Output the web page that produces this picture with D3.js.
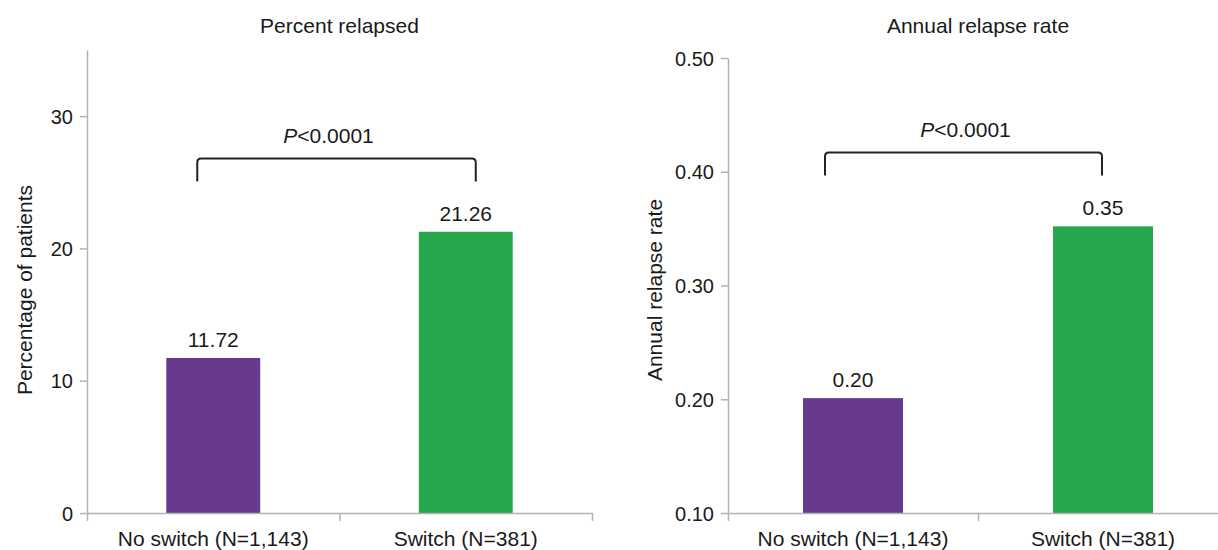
<!DOCTYPE html>
<html>
<head>
<meta charset="utf-8">
<script src="https://cdn.jsdelivr.net/npm/d3@7"></script>
<style>
	body { margin: 0; background: #fff; }
	svg { display: block; font-family: "Liberation Sans", Arial, sans-serif; }
	.axis path, .axis line { stroke: #b3b3b3; stroke-width: 1.5; }
	.axis text { fill: #1a1a1a; font-size: 20px; }
</style>
</head>
<body>
<div id="chart"></div>
<script>
// data
var categories = ["No switch (N=1,143)", "Switch (N=381)"];
var barColors = ["#673a8f", "#27a84f"];

var percentRelapsed = [11.72, 21.26];
var percentTicks = [0, 10, 20, 30];

var annualRate = [0.201, 0.352];
var annualTicks = [0.10, 0.20, 0.30, 0.40, 0.50];

var W = 1218, H = 550;

var svg = d3.select("#chart").append("svg")
	.attr("width", W)
	.attr("height", H);

/**
 * Draws one bar panel.
 */
function drawPanel(opts)
{
	var g = svg.append("g");

	var x = d3.scaleBand()
		.domain(categories)
		.range([opts.left, opts.right])
		.paddingInner(opts.padding)
		.paddingOuter(opts.padding / 2);

	// x axis with ticks at category boundaries
	var xEdge = d3.scaleLinear()
		.domain([0, categories.length])
		.range([opts.left, opts.right]);

	var y = d3.scaleLinear()
		.domain(opts.domain)
		.range([513, opts.top]);

	// bars
	g.selectAll("rect.bar")
		.data(opts.values)
		.enter().append("rect")
		.attr("class", "bar")
		.attr("x", function(d, i) { return x(categories[i]); })
		.attr("width", x.bandwidth())
		.attr("y", function(d) { return y(d); })
		.attr("height", function(d) { return y(opts.domain[0]) - y(d); })
		.attr("fill", function(d, i) { return barColors[i]; });

	// axes
	g.append("g")
		.attr("class", "axis")
		.attr("transform", "translate(0," + y(opts.domain[0]) + ")")
		.call(d3.axisBottom(xEdge)
			.tickValues(d3.range(categories.length + 1))
			.tickFormat("")
			.tickSize(8)
			.tickSizeOuter(0));

	var yAxis = g.append("g")
		.attr("class", "axis")
		.attr("transform", "translate(" + opts.left + ",0)")
		.call(d3.axisLeft(y)
			.tickValues(opts.ticks)
			.tickFormat(opts.format)
			.tickSize(7)
			.tickSizeOuter(0)
			.tickPadding(7));
	yAxis.selectAll("text").attr("dy", "0.36em");

	// category labels
	g.selectAll("text.cat")
		.data(categories)
		.enter().append("text")
		.attr("class", "cat")
		.attr("x", function(d) { return x(d) + x.bandwidth() / 2; })
		.attr("y", 546)
		.attr("text-anchor", "middle")
		.style("font-size", "21px")
		.attr("fill", "#1a1a1a")
		.text(function(d) { return d; });

	// value labels
	g.selectAll("text.val")
		.data(opts.values)
		.enter().append("text")
		.attr("class", "val")
		.attr("x", function(d, i) { return x(categories[i]) + x.bandwidth() / 2; })
		.attr("y", function(d) { return y(d) - 11; })
		.attr("text-anchor", "middle")
		.style("font-size", "21px")
		.attr("fill", "#1a1a1a")
		.text(function(d) { return opts.format(d); });

	// title
	g.append("text")
		.attr("x", (opts.left + xEdge(categories.length)) / 2)
		.attr("y", 33)
		.attr("text-anchor", "middle")
		.style("font-size", "21px")
		.attr("fill", "#1a1a1a")
		.text(opts.title);

	// y label
	g.append("text")
		.attr("transform", "translate(" + opts.labelX + ",290) rotate(-90)")
		.attr("text-anchor", "middle")
		.style("font-size", "21px")
		.attr("fill", "#1a1a1a")
		.text(opts.yLabel);

	// significance bracket
	var x1 = x(categories[0]) + x.bandwidth() / 2 + opts.bracketOffset[0];
	var x2 = x(categories[1]) + x.bandwidth() / 2 + opts.bracketOffset[1];
	var yt = y(opts.bracketValue);
	var yb = yt + 23;
	var r = 4;
	g.append("path")
		.attr("d", "M" + x1 + "," + yb + " L" + x1 + "," + (yt + r) +
			" Q" + x1 + "," + yt + " " + (x1 + r) + "," + yt +
			" L" + (x2 - r) + "," + yt +
			" Q" + x2 + "," + yt + " " + x2 + "," + (yt + r) +
			" L" + x2 + "," + yb)
		.attr("fill", "none")
		.attr("stroke", "#222")
		.attr("stroke-width", 2);

	var p = g.append("text")
		.attr("x", (x1 + x2) / 2 + opts.pShift)
		.attr("y", yt - 15)
		.attr("text-anchor", "middle")
		.style("font-size", "21px")
		.attr("fill", "#1a1a1a");
	p.append("tspan").style("font-style", "italic").text("P");
	p.append("tspan").text("<0.0001");
}

drawPanel({
	left: 87, right: 592, top: 50,
	domain: [0, 35],
	ticks: percentTicks,
	format: function(d) { return Number.isInteger(d) ? String(d) : d3.format(".2f")(d); },
	values: percentRelapsed,
	padding: 0.628,
	title: "Percent relapsed",
	yLabel: "Percentage of patients",
	labelX: 32,
	bracketValue: 26.8,
	bracketOffset: [-16, 10],
	pShift: -8
});

drawPanel({
	left: 728, right: 1228, top: 58,
	domain: [0.1, 0.5],
	ticks: annualTicks,
	format: d3.format(".2f"),
	values: annualRate,
	padding: 0.6,
	title: "Annual relapse rate",
	yLabel: "Annual relapse rate",
	labelX: 662,
	bracketValue: 0.417,
	bracketOffset: [-28, -1],
	pShift: 2
});
</script>
</body>
</html>
